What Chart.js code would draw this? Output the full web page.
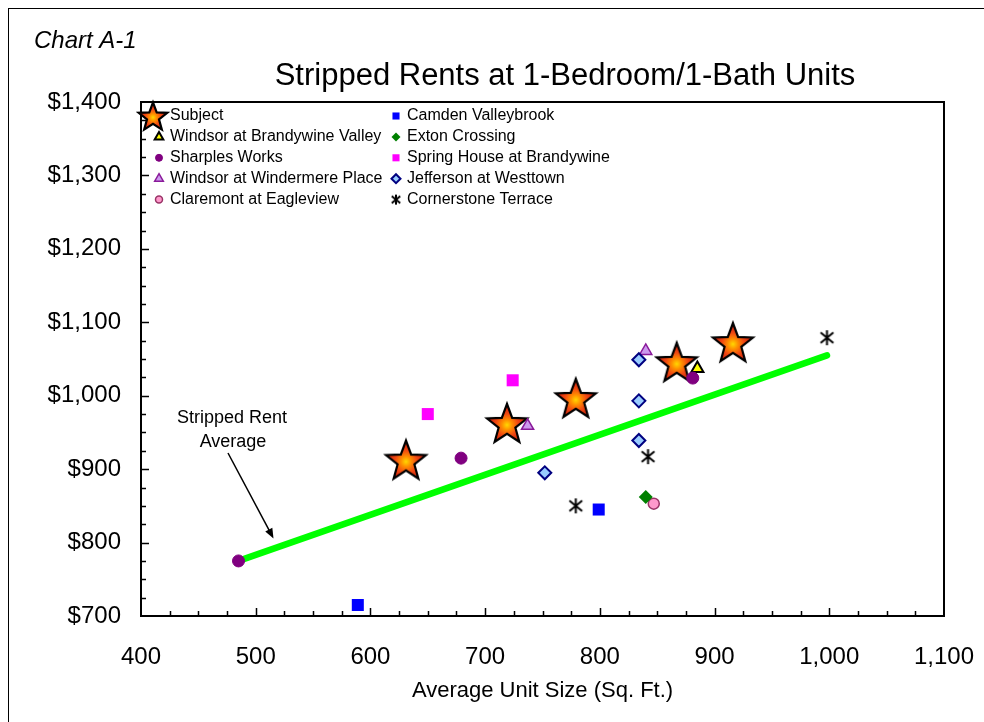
<!DOCTYPE html>
<html>
<head>
<meta charset="utf-8">
<title>Stripped Rents at 1-Bedroom/1-Bath Units</title>
<script src="https://cdn.jsdelivr.net/npm/chart.js@4/dist/chart.umd.min.js"></script>
<style>
  html, body { margin: 0; padding: 0; background: #fff; }
  #wrap { width: 984px; height: 722px; }
</style>
</head>
<body>
<div id="wrap"><canvas id="rentChart" width="984" height="722"></canvas></div>
<script>
// values (unit size in sq. ft., stripped rent in $)
const subjectSize = [631, 719, 779, 867, 916];
const subjectRent = [913, 963, 997, 1046, 1073];
const brandywineValleySize = [885];
const brandywineValleyRent = [1037];
const sharplesSize = [485, 679, 881];
const sharplesRent = [775, 915, 1024];
const windermereSize = [737, 840];
const windermereRent = [959, 1061];
const claremontSize = [847];
const claremontRent = [853];
const camdenSize = [589, 799];
const camdenRent = [715, 845];
const extonSize = [840];
const extonRent = [862];
const springHouseSize = [650, 724];
const springHouseRent = [975, 1021];
const jeffersonSize = [752, 834, 834, 834];
const jeffersonRent = [895, 1049, 993, 939];
const cornerstoneSize = [779, 842, 998];
const cornerstoneRent = [850, 917, 1079];
const averageSize = [485, 998];
const averageRent = [775, 1055];

const sizeTicks = [400, 500, 600, 700, 800, 900, 1000, 1100];
const rentTicks = [700, 800, 900, 1000, 1100, 1200, 1300, 1400];

const FONT = "'Liberation Sans', Arial, sans-serif";

// zip two arrays into {x, y} points
function pts(xs, ys) {
    return xs.map((x, i) => ({ x: x, y: ys[i] }));
}

// filled 5 point star with a yellow -> red gradient, like the Excel marker
function makeStar(R) {
    const c = document.createElement('canvas');
    const s = Math.ceil(R * 2 + 4);
    c.width = s;
    c.height = s;
    const g = c.getContext('2d');
    const cx = s / 2;
    const cy = s / 2 + 0.095 * R;
    const r = R * 0.42;
    g.beginPath();
    for (let i = 0; i < 10; i++) {
        const rad = i % 2 === 0 ? R : r;
        const a = -Math.PI / 2 + i * Math.PI / 5;
        g.lineTo(cx + rad * Math.cos(a), cy + rad * Math.sin(a));
    }
    g.closePath();
    const grad = g.createRadialGradient(cx, cy, 0, cx, cy, R * 0.95);
    grad.addColorStop(0, '#ffd800');
    grad.addColorStop(0.25, '#ff9000');
    grad.addColorStop(0.55, '#f24a12');
    grad.addColorStop(1, '#c8180a');
    g.fillStyle = grad;
    g.fill();
    g.lineWidth = 2.2;
    g.lineJoin = 'miter';
    g.strokeStyle = '#000';
    g.stroke();
    return c;
}

// X with a vertical bar through it
function makeAsterisk(size, lw) {
    const c = document.createElement('canvas');
    c.width = size + 2;
    c.height = size + 2;
    const g = c.getContext('2d');
    const m = (size + 2) / 2;
    const h = size / 2;
    g.strokeStyle = '#000';
    g.lineWidth = lw;
    g.beginPath();
    g.moveTo(m, m - h); g.lineTo(m, m + h);
    g.moveTo(m - h * 0.85, m - h * 0.7); g.lineTo(m + h * 0.85, m + h * 0.7);
    g.moveTo(m + h * 0.85, m - h * 0.7); g.lineTo(m - h * 0.85, m + h * 0.7);
    g.stroke();
    return c;
}

const bigStar = makeStar(21);
const legendStar = makeStar(15);
const bigAsterisk = makeAsterisk(15, 2);
const smallAsterisk = makeAsterisk(10, 2);

function series(label, xs, ys, style, idx) {
    return Object.assign({
        type: 'scatter',
        label: label,
        data: pts(xs, ys),
        showLine: false,
        order: 10 - idx,
        pointHoverRadius: style.pointRadius || 6
    }, style);
}

const datasets = [
    series('Subject', subjectSize, subjectRent,
        { pointStyle: bigStar, legendStyle: legendStar, pointRadius: 21 }, 0),
    series('Windsor at Brandywine Valley', brandywineValleySize, brandywineValleyRent,
        { pointStyle: 'triangle', pointRadius: 7, pointBackgroundColor: '#ffff00', pointBorderColor: '#000', pointBorderWidth: 2, legendRadius: 5 }, 1),
    series('Sharples Works', sharplesSize, sharplesRent,
        { pointStyle: 'circle', pointRadius: 6, pointBackgroundColor: '#800080', pointBorderColor: '#800080', pointBorderWidth: 1, legendRadius: 3.5 }, 2),
    series('Windsor at Windermere Place', windermereSize, windermereRent,
        { pointStyle: 'triangle', pointRadius: 7, pointBackgroundColor: '#cc99ee', pointBorderColor: '#8a1a9a', pointBorderWidth: 1.5, legendRadius: 5 }, 3),
    series('Claremont at Eagleview', claremontSize, claremontRent,
        { pointStyle: 'circle', pointRadius: 5.5, pointBackgroundColor: '#ff99cc', pointBorderColor: '#993366', pointBorderWidth: 1.5, legendRadius: 3.5 }, 4),
    series('Camden Valleybrook', camdenSize, camdenRent,
        { pointStyle: 'rect', pointRadius: 8.5, pointBackgroundColor: '#0000ff', pointBorderColor: '#0000ff', pointBorderWidth: 0, legendRadius: 5 }, 5),
    series('Exton Crossing', extonSize, extonRent,
        { pointStyle: 'rectRot', pointRadius: 7, pointBackgroundColor: '#008000', pointBorderColor: '#008000', pointBorderWidth: 0, legendRadius: 4.5 }, 6),
    series('Spring House at Brandywine', springHouseSize, springHouseRent,
        { pointStyle: 'rect', pointRadius: 8.5, pointBackgroundColor: '#ff00ff', pointBorderColor: '#ff00ff', pointBorderWidth: 0, legendRadius: 5 }, 7),
    series('Jefferson at Westtown', jeffersonSize, jeffersonRent,
        { pointStyle: 'rectRot', pointRadius: 6.5, pointBackgroundColor: '#99ccff', pointBorderColor: '#000080', pointBorderWidth: 2, legendRadius: 4.5 }, 8),
    series('Cornerstone Terrace', cornerstoneSize, cornerstoneRent,
        { pointStyle: bigAsterisk, legendStyle: smallAsterisk, pointRadius: 8 }, 9),
    {
        type: 'scatter',
        label: 'Stripped Rent Average',
        data: pts(averageSize, averageRent),
        showLine: true,
        borderColor: '#00ff00',
        borderWidth: 6.5,
        borderCapStyle: 'round',
        pointRadius: 0,
        order: 20,
        hideInLegend: true
    }
];

// frame, titles, plot box, inside ticks, note + arrow
const decorations = {
    id: 'decorations',
    beforeDraw(chart) {
        const ctx = chart.ctx;
        ctx.save();
        ctx.fillStyle = '#fff';
        ctx.fillRect(0, 0, chart.width, chart.height);
        ctx.strokeStyle = '#000';
        ctx.lineWidth = 1;
        ctx.strokeRect(8.5, 8.5, chart.width + 20, chart.height + 20);

        ctx.fillStyle = '#000';
        ctx.textBaseline = 'alphabetic';
        ctx.textAlign = 'left';
        ctx.font = 'italic 24px ' + FONT;
        ctx.fillText('Chart A-1', 34, 48);
        ctx.textAlign = 'center';
        ctx.font = '31px ' + FONT;
        ctx.fillText('Stripped Rents at 1-Bedroom/1-Bath Units', 565, 85);
        ctx.restore();
    },
    afterDatasetsDraw(chart) {
        const ctx = chart.ctx;
        const a = chart.chartArea;
        const xs = chart.scales.x;
        const ys = chart.scales.y;
        ctx.save();
        ctx.strokeStyle = '#000';

        // inside tick marks, minor every 25
        ctx.lineWidth = 1.5;
        ctx.beginPath();
        for (let v = xs.min + 25; v < xs.max; v += 25) {
            const px = Math.round(xs.getPixelForValue(v)) + 0.5;
            const len = v % 100 === 0 ? 8 : 5;
            ctx.moveTo(px, a.bottom);
            ctx.lineTo(px, a.bottom - len);
        }
        for (let v = ys.min + 25; v < ys.max; v += 25) {
            const py = Math.round(ys.getPixelForValue(v)) + 0.5;
            const len = v % 100 === 0 ? 8 : 5;
            ctx.moveTo(a.left, py);
            ctx.lineTo(a.left + len, py);
        }
        ctx.stroke();

        ctx.lineWidth = 2;
        ctx.strokeRect(a.left, a.top, a.right - a.left, a.bottom - a.top);

        // note with arrow to the average line
        ctx.fillStyle = '#000';
        ctx.font = '18px ' + FONT;
        ctx.textAlign = 'center';
        ctx.textBaseline = 'middle';
        ctx.fillText('Stripped Rent', 232, 418);
        ctx.fillText('Average', 233, 442);
        const x1 = 228, y1 = 453, x2 = 273.5, y2 = 538.5;
        const ang = Math.atan2(y2 - y1, x2 - x1);
        ctx.lineWidth = 1.5;
        ctx.beginPath();
        ctx.moveTo(x1, y1);
        ctx.lineTo(x2 - 6 * Math.cos(ang), y2 - 6 * Math.sin(ang));
        ctx.stroke();
        ctx.beginPath();
        ctx.moveTo(x2, y2);
        ctx.lineTo(x2 - 10 * Math.cos(ang) + 4 * Math.sin(ang), y2 - 10 * Math.sin(ang) - 4 * Math.cos(ang));
        ctx.lineTo(x2 - 10 * Math.cos(ang) - 4 * Math.sin(ang), y2 - 10 * Math.sin(ang) + 4 * Math.cos(ang));
        ctx.closePath();
        ctx.fill();
        ctx.restore();
    },
    afterDraw(chart) {
        // two column legend inside the plot
        const ctx = chart.ctx;
        const sets = chart.data.datasets.filter(d => !d.hideInLegend);
        ctx.save();
        ctx.font = '16px ' + FONT;
        ctx.textBaseline = 'middle';
        ctx.textAlign = 'left';
        sets.forEach((d, i) => {
            const col = i < 5 ? 0 : 1;
            const row = i % 5;
            const mx = col === 0 ? 159 : 396;
            const my = 116 + row * 20.9;
            if (d.legendStyle) {
                const img = d.legendStyle;
                const cx = d.label === 'Subject' ? 153 : mx;
                ctx.drawImage(img, cx - img.width / 2, my - img.height / 2);
            } else {
                ctx.fillStyle = d.pointBackgroundColor;
                ctx.strokeStyle = d.pointBorderColor;
                ctx.lineWidth = d.pointBorderWidth;
                Chart.helpers.drawPoint(ctx, {
                    pointStyle: d.pointStyle,
                    radius: d.legendRadius,
                    rotation: 0,
                    borderWidth: d.pointBorderWidth
                }, mx, my);
            }
            ctx.fillStyle = '#000';
            ctx.fillText(d.label, col === 0 ? 170 : 407, my);
        });
        ctx.restore();
    }
};

const ctx = document.getElementById('rentChart').getContext('2d');
const rentChart = new Chart(ctx, {
    type: 'scatter',
    data: { datasets: datasets },
    options: {
        responsive: false,
        animation: false,
        devicePixelRatio: 1,
        layout: { padding: { top: 102, right: 40, bottom: 0, left: 0 } },
        plugins: {
            legend: { display: false },
            tooltip: { enabled: false }
        },
        scales: {
            x: {
                type: 'linear',
                min: sizeTicks[0],
                max: sizeTicks[sizeTicks.length - 1],
                afterBuildTicks: s => { s.ticks = sizeTicks.map(v => ({ value: v })); },
                afterFit: s => { s.height = 106; s.paddingLeft = 0; s.paddingRight = 0; },
                grid: { display: false, drawTicks: false },
                border: { display: false },
                ticks: {
                    color: '#000',
                    font: { family: FONT, size: 24 },
                    padding: 27,
                    maxRotation: 0,
                    autoSkip: false,
                    callback: v => v.toLocaleString('en-US')
                },
                title: {
                    display: true,
                    text: 'Average Unit Size (Sq. Ft.)',
                    color: '#000',
                    font: { family: FONT, size: 22 },
                    padding: { top: 0, bottom: 18 }
                }
            },
            y: {
                type: 'linear',
                min: rentTicks[0],
                max: rentTicks[rentTicks.length - 1],
                afterBuildTicks: s => { s.ticks = rentTicks.map(v => ({ value: v })); },
                afterFit: s => { s.width = 141; s.paddingTop = 0; s.paddingBottom = 0; },
                grid: { display: false, drawTicks: false },
                border: { display: false },
                ticks: {
                    color: '#000',
                    font: { family: FONT, size: 24 },
                    padding: 20,
                    autoSkip: false,
                    callback: v => '$' + v.toLocaleString('en-US')
                }
            }
        }
    },
    plugins: [decorations]
});
</script>
</body>
</html>
